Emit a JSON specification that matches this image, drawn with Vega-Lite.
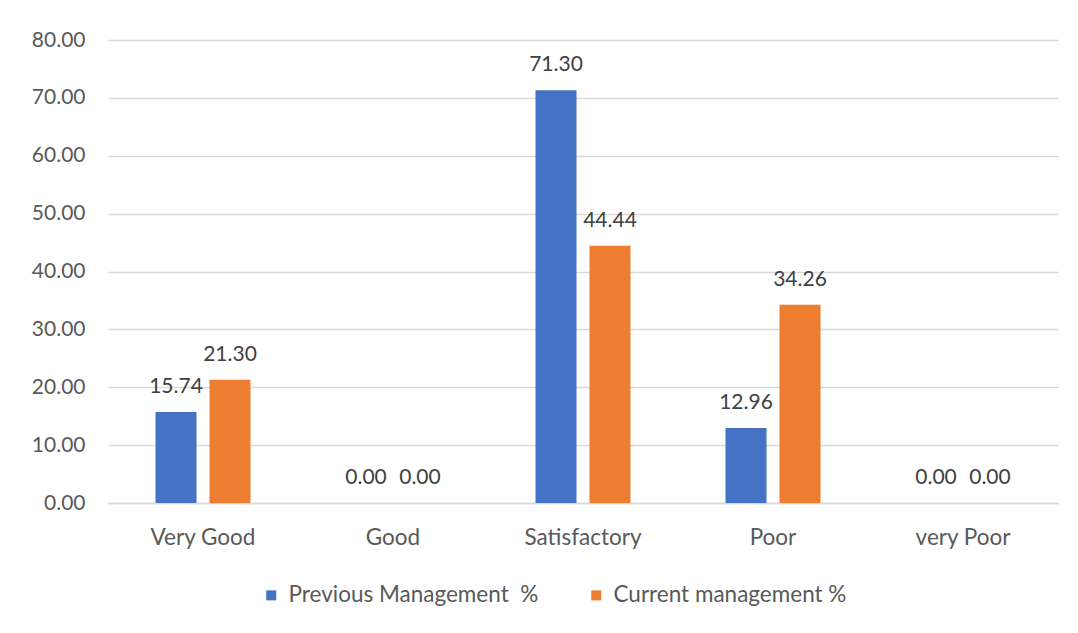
{
  "$schema": "https://vega.github.io/schema/vega-lite/v6.json",
  "width": 950,
  "height": 463,
  "autosize": {"type": "none"},
  "padding": {"left": 108, "top": 40, "right": 20, "bottom": 130},
  "background": "white",
  "config": {
    "font": "Lato",
    "view": {"stroke": null},
    "axis": {"labelColor": "#595959", "labelFont": "Lato", "labelFontSize": 21},
    "legend": {"labelColor": "#595959", "labelFont": "Lato", "labelFontSize": 22.5}
  },
  "data": {
    "values": [
      {"rating": "Very Good", "series": "Previous Management\u00a0 %", "value": 15.74},
      {"rating": "Very Good", "series": "Current management %", "value": 21.30},
      {"rating": "Good", "series": "Previous Management\u00a0 %", "value": 0.00},
      {"rating": "Good", "series": "Current management %", "value": 0.00},
      {"rating": "Satisfactory", "series": "Previous Management\u00a0 %", "value": 71.30},
      {"rating": "Satisfactory", "series": "Current management %", "value": 44.44},
      {"rating": "Poor", "series": "Previous Management\u00a0 %", "value": 12.96},
      {"rating": "Poor", "series": "Current management %", "value": 34.26},
      {"rating": "very Poor", "series": "Previous Management\u00a0 %", "value": 0.00},
      {"rating": "very Poor", "series": "Current management %", "value": 0.00}
    ]
  },
  "encoding": {
    "x": {
      "field": "rating",
      "type": "nominal",
      "sort": ["Very Good", "Good", "Satisfactory", "Poor", "very Poor"],
      "scale": {"paddingInner": 0.5, "paddingOuter": 0.25},
      "axis": {
        "title": null,
        "labelAngle": 0,
        "labelPadding": 23,
        "labelFontSize": 22.5,
        "ticks": false,
        "domainColor": "#d9d9d9",
        "domainWidth": 1.5
      }
    },
    "xOffset": {
      "field": "series",
      "type": "nominal",
      "sort": ["Previous Management\u00a0 %", "Current management %"],
      "scale": {"paddingInner": 0.24, "paddingOuter": 0}
    },
    "y": {
      "field": "value",
      "type": "quantitative",
      "scale": {"domain": [0, 80], "nice": false},
      "axis": {
        "title": null,
        "values": [0, 10, 20, 30, 40, 50, 60, 70, 80],
        "format": ".2f",
        "domain": false,
        "ticks": false,
        "labelPadding": 23,
        "gridColor": "#d9d9d9",
        "gridWidth": 1.5
      }
    }
  },
  "layer": [
    {
      "mark": {"type": "bar"},
      "encoding": {
        "color": {
          "field": "series",
          "type": "nominal",
          "sort": ["Previous Management\u00a0 %", "Current management %"],
          "scale": {
            "domain": ["Previous Management\u00a0 %", "Current management %"],
            "range": ["#4472c4", "#ed7d31"]
          },
          "legend": {
            "title": null,
            "orient": "none",
            "direction": "horizontal",
            "legendX": 152,
            "legendY": 544,
            "symbolType": "square",
            "symbolSize": 100,
            "symbolStrokeWidth": 0,
            "columnPadding": 46,
            "labelOffset": 6,
            "labelLimit": 500
          }
        }
      }
    },
    {
      "mark": {"type": "text", "baseline": "alphabetic", "dy": -19, "fontSize": 21, "color": "#404040", "font": "Lato"},
      "encoding": {
        "text": {"field": "value", "type": "quantitative", "format": ".2f"}
      }
    }
  ]
}
